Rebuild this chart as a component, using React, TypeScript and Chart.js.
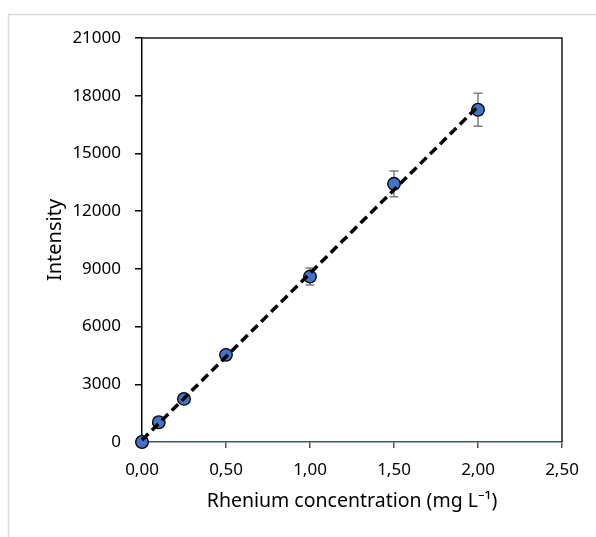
import React, { useEffect, useRef } from "react";
import { Chart, registerables } from "chart.js";

Chart.register(...registerables);

const concentrations = [0, 0.1, 0.25, 0.5, 1.0, 1.5, 2.0];
const intensities = [0, 1027, 2240, 4530, 8600, 13420, 17270];
const errors = [0, 40, 90, 150, 440, 670, 860];
const xTicks = [0, 0.5, 1.0, 1.5, 2.0, 2.5];
const yTicks = [0, 3000, 6000, 9000, 12000, 15000, 18000, 21000];

function linearFit(xs: number[], ys: number[]) {
  const n = xs.length;
  const mx = xs.reduce((a, b) => a + b, 0) / n;
  const my = ys.reduce((a, b) => a + b, 0) / n;
  let sxy = 0;
  let sxx = 0;
  for (let i = 0; i < n; i++) {
    sxy += (xs[i] - mx) * (ys[i] - my);
    sxx += (xs[i] - mx) * (xs[i] - mx);
  }
  const slope = sxy / sxx;
  return { slope, intercept: my - slope * mx };
}

const errorBarPlugin = {
  id: "errorBars",
  beforeDatasetsDraw(chart: any) {
    const ctx = chart.ctx;
    const xs = chart.scales.x;
    const ys = chart.scales.y;
    ctx.save();
    ctx.strokeStyle = "#7f7f7f";
    ctx.lineWidth = 1.5;
    for (let i = 0; i < concentrations.length; i++) {
      const e = errors[i];
      if (!e) continue;
      const px = xs.getPixelForValue(concentrations[i]);
      const top = ys.getPixelForValue(intensities[i] + e);
      const bot = ys.getPixelForValue(intensities[i] - e);
      ctx.beginPath();
      ctx.moveTo(px, top);
      ctx.lineTo(px, bot);
      ctx.moveTo(px - 4.5, top);
      ctx.lineTo(px + 4.5, top);
      ctx.moveTo(px - 4.5, bot);
      ctx.lineTo(px + 4.5, bot);
      ctx.stroke();
    }
    ctx.restore();
  },
};

const framePlugin = {
  id: "frame",
  beforeDatasetsDraw(chart: any) {
    const ctx = chart.ctx;
    const a = chart.chartArea;
    ctx.save();
    ctx.strokeStyle = "#d9d9d9";
    ctx.lineWidth = 1.5;
    ctx.beginPath();
    ctx.moveTo(8.5, chart.height);
    ctx.lineTo(8.5, 14.5);
    ctx.lineTo(chart.width, 14.5);
    ctx.stroke();
    ctx.strokeStyle = "#1a1a1a";
    ctx.lineWidth = 1.5;
    ctx.beginPath();
    ctx.moveTo(a.left, a.top);
    ctx.lineTo(a.right, a.top);
    ctx.lineTo(a.right, a.bottom);
    ctx.stroke();
    ctx.restore();
  },
};

export default function App() {
  const ref = useRef<HTMLCanvasElement>(null);
  useEffect(() => {
    if (!ref.current) return;
    const fit = linearFit(concentrations, intensities);
    const xEnd = concentrations[concentrations.length - 1];
    const chart = new Chart(ref.current, {
      type: "scatter",
      data: {
        datasets: [
          {
            label: "Trend",
            data: [
              { x: 0, y: fit.intercept },
              { x: xEnd, y: fit.slope * xEnd + fit.intercept },
            ],
            showLine: true,
            borderColor: "#000000",
            borderWidth: 3.5,
            borderDash: [9, 5],
            pointRadius: 0,
            fill: false,
            clip: false,
          },
          {
            label: "Rhenium",
            data: concentrations.map((c, i) => ({ x: c, y: intensities[i] })),
            backgroundColor: "#4472C4",
            borderColor: "#000000",
            borderWidth: 1.3,
            pointRadius: 6.3,
            pointHoverRadius: 6.3,
            clip: false,
          },
        ],
      },
      options: {
        animation: false,
        responsive: false,
        events: [],
        layout: { padding: { top: 38, right: 34, left: 0, bottom: 0 } },
        plugins: {
          legend: { display: false },
          tooltip: { enabled: false },
        },
        scales: {
          x: {
            type: "linear",
            min: xTicks[0],
            max: xTicks[xTicks.length - 1],
            afterBuildTicks: (s: any) => {
              s.ticks = xTicks.map((v) => ({ value: v }));
            },
            afterFit: (s: any) => {
              s.height = 95;
            },
            ticks: {
              color: "#000",
              font: { family: "'Noto Sans'", size: 17 },
              padding: 12,
              callback: (v: any) => Number(v).toFixed(2).replace(".", ","),
            },
            grid: {
              display: true,
              drawOnChartArea: false,
              drawTicks: true,
              tickLength: 6,
              color: "#44546A",
              lineWidth: 1.5,
            },
            border: { display: true, color: "#44546A", width: 1.5 },
            title: {
              display: true,
              text: "Rhenium concentration (mg L⁻¹)",
              color: "#000",
              font: { family: "'Noto Sans'", size: 19.5 },
              padding: { top: 0, bottom: 24 },
            },
          },
          y: {
            type: "linear",
            min: yTicks[0],
            max: yTicks[yTicks.length - 1],
            afterBuildTicks: (s: any) => {
              s.ticks = yTicks.map((v) => ({ value: v }));
            },
            afterFit: (s: any) => {
              s.width = 142;
            },
            ticks: {
              color: "#000",
              font: { family: "'Noto Sans'", size: 17 },
              padding: 14,
              callback: (v: any) => String(v),
            },
            grid: {
              display: true,
              drawOnChartArea: false,
              drawTicks: true,
              tickLength: 7,
              color: "#000",
              lineWidth: 1.5,
            },
            border: { display: true, color: "#000", width: 1.5 },
            title: {
              display: true,
              text: "Intensity",
              color: "#000",
              font: { family: "'Noto Sans'", size: 20 },
              padding: { top: 43, bottom: 0 },
            },
          },
        },
      },
      plugins: [errorBarPlugin, framePlugin],
    });
    return () => chart.destroy();
  }, []);
  return (
    <div style={{ position: "absolute", left: 0, top: 0, width: 596, height: 537, background: "#fff" }}>
      <canvas ref={ref} width={596} height={537} style={{ display: "block" }} />
    </div>
  );
}
